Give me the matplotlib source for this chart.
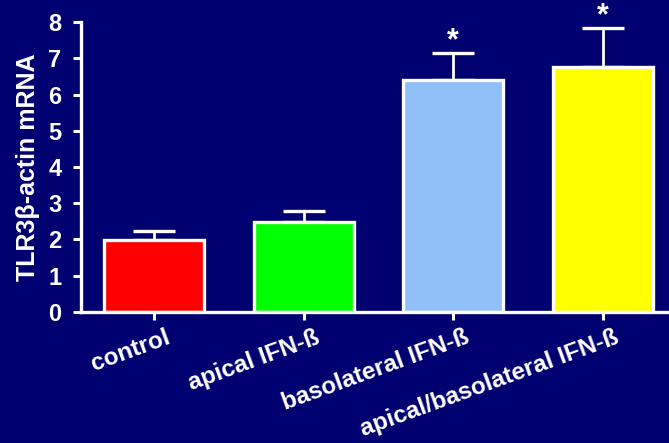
import matplotlib.pyplot as plt
from matplotlib.transforms import ScaledTranslation

groups = ['control', 'apical IFN-ß', 'basolateral IFN-ß', 'apical/basolateral IFN-ß']
means = [1.98, 2.48, 6.40, 6.76]
errors = [0.24, 0.31, 0.74, 1.08]
colors = ['#ff0000', '#00ff00', '#90c0f8', '#ffff00']
signif = ['', '', '*', '*']

bg = '#000070'
plt.rcParams['font.family'] = ['Liberation Sans', 'DejaVu Sans']

fig = plt.figure(figsize=(6.69, 4.43), dpi=100, facecolor=bg)
ax = fig.add_axes([0.121, 0.296, 0.885, 0.654], facecolor=bg)

x = list(range(len(groups)))
ax.bar(x, means, width=0.67, color=colors, edgecolor='white', linewidth=2.4, zorder=3)
ax.errorbar(x, means, yerr=[[0] * len(errors), errors], fmt='none', ecolor='white',
            elinewidth=2, capsize=15, capthick=2.4, zorder=2)

for xi, m, e, s in zip(x, means, errors, signif):
    if s:
        ax.text(xi, m + e + 0.33, s, ha='center', va='center', color='white',
                fontsize=22, fontweight='bold', clip_on=False)

ax.set_xlim(-0.49, 3.47)
ax.set_ylim(0, 8)
ax.set_yticks(range(0, 9))
ax.set_xticks(x)
ax.set_xticklabels(groups, rotation=20, ha='right', rotation_mode='anchor',
                   fontsize=17.5, fontweight='bold', color='white')
ax.tick_params(axis='y', colors='white', labelsize=17, width=2.2, length=6, pad=8)
ax.tick_params(axis='x', colors='white', width=2.2, length=6, pad=4)
for lbl in ax.get_yticklabels():
    lbl.set_fontweight('bold')

# nudge the slanted category labels a little to the right of their ticks
shift = ScaledTranslation(11 / 100, 0, fig.dpi_scale_trans)
for lbl in ax.get_xticklabels():
    lbl.set_transform(lbl.get_transform() + shift)

ax.set_ylabel('TLR3β-actin mRNA', color='white', fontsize=18, fontweight='bold', labelpad=6)

for side in ['top', 'right']:
    ax.spines[side].set_visible(False)
for side in ['left', 'bottom']:
    ax.spines[side].set_color('white')
    ax.spines[side].set_linewidth(2.4)
ax.spines['bottom'].set_zorder(4)

fig.savefig('out.png', dpi=100, facecolor=bg)
